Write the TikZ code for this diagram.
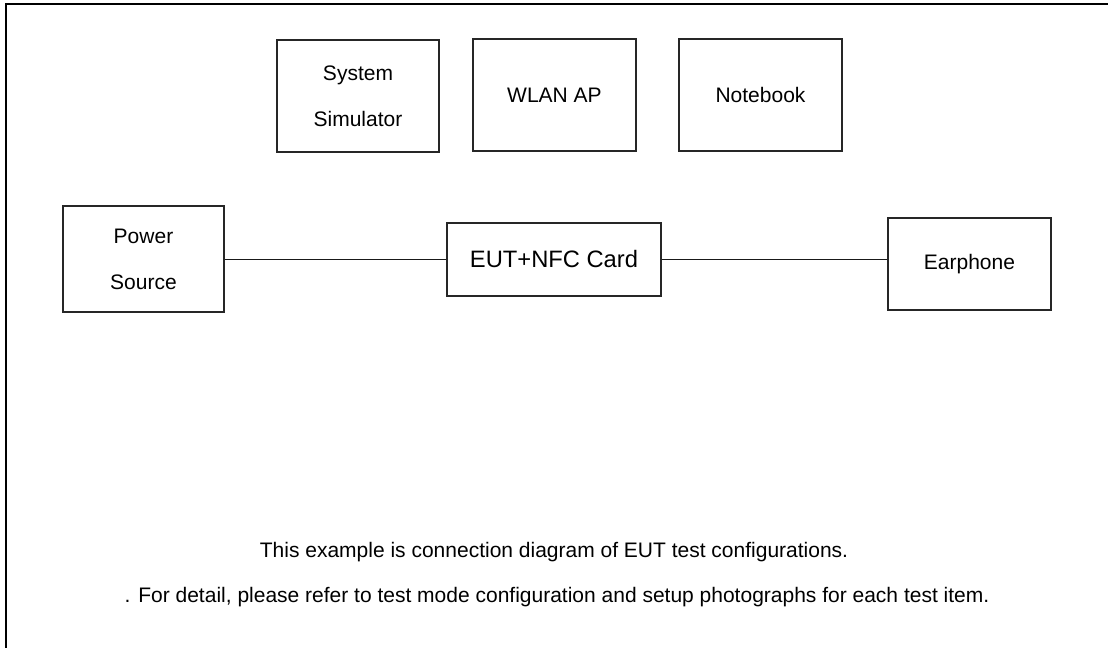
\documentclass[tikz,border=0pt]{standalone}
\usepackage{fontspec}
\setmainfont{Liberation Sans}
\begin{document}
\begin{tikzpicture}[x=0.75pt,y=-0.75pt,
  box/.style={draw=black!85,line width=1pt,rectangle,inner sep=0pt,align=center,
    font=\fontsize{15.75}{34.5}\selectfont},
  wire/.style={draw=black!90,line width=1.1pt},
  note/.style={inner sep=0pt,font=\fontsize{15.75}{18}\selectfont}]
\useasboundingbox (0,0) rectangle (1108,647);
\fill[white] (0,0) rectangle (1108,647);
\draw[line width=1.5pt] (6,660) -- (6,4) -- (1120,4);
\node[box,minimum width=121.5pt,minimum height=84pt] (sys) at (358,96) {System\\Simulator};
\node[box,minimum width=122.25pt,minimum height=84pt] (wlan) at (554.5,95) {WLAN AP};
\node[box,minimum width=122.25pt,minimum height=84pt] (nb) at (760.5,95) {Notebook};
\node[box,minimum width=120.75pt,minimum height=79.5pt] (pwr) at (143.5,259) {Power\\Source};
\node[box,minimum width=160.5pt,minimum height=54.75pt,font=\fontsize{17.8}{22}\selectfont] (eut) at (554,259.5) {EUT+NFC Card};
\node[box,minimum width=122.25pt,minimum height=69pt] (ear) at (969.5,264) {Earphone};
\draw[wire] (pwr.east |- eut.west) -- (eut.west);
\draw[wire] (eut.east) -- (eut.east -| ear.west);
\node[note] (t1) at (554,552) {This example is connection diagram of EUT test configurations.};
\node[note] (t2) at (557,597) {. For detail, please refer to test mode configuration and setup photographs for each test item.};
\end{tikzpicture}
\end{document}
